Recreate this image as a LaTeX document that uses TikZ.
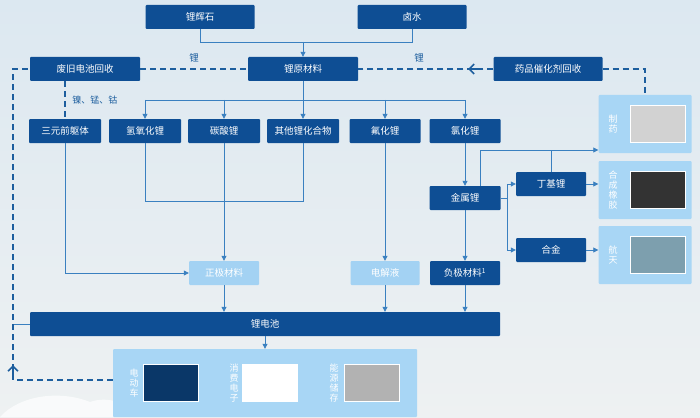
\documentclass[tikz,border=0pt]{standalone}
\usepackage{fontspec}
\setmainfont{Noto Sans CJK SC}
\usetikzlibrary{arrows.meta}
\definecolor{darkbox}{HTML}{0E4E94}
\definecolor{lightbox}{HTML}{A3D2F3}
\definecolor{panelc}{HTML}{A8D6F5}
\definecolor{wirec}{HTML}{3A80C0}
\definecolor{dashc}{HTML}{1D5E9E}
\definecolor{bgtop}{HTML}{DCE8F1}
\definecolor{bgbot}{HTML}{EEF1F2}

\begin{document}
\begin{tikzpicture}[x=1pt,y=-1pt,
    dbox/.style={fill=darkbox, text=white, rounded corners=1pt, minimum height=24pt, inner sep=1pt, font=\fontsize{9.5}{11}\selectfont},
    lbox/.style={dbox, fill=lightbox},
    pnl/.style={fill=panelc, rounded corners=1pt},
    photo/.style={fill=#1, draw=white, line width=0.5pt},
    vtext/.style={text=white, align=center, font=\fontsize{9}{10}\selectfont},
    wire/.style={wirec, line width=0.8pt},
    arr/.style={wire, -{Triangle[length=5pt,width=5pt]}},
    dsh/.style={dashc, line width=2pt, dash pattern=on 6pt off 4pt}]
    % background
    \useasboundingbox (0,0) rectangle (700,417);
    \shade[top color=bgtop, bottom color=bgbot] (0,0) rectangle (700,417);
    \fill[white, opacity=0.7] (0,417) .. controls (20,395) and (60,390) .. (90,402) .. controls (110,395) and (130,405) .. (140,417) -- cycle;

    % sources
    \node[dbox, minimum width=109pt] (spod) at (200,17) {锂辉石};
    \node[dbox, minimum width=109pt] (brine) at (412,17) {卤水};
    \node[dbox, minimum width=110pt] (raw) at (303,69) {锂原材料};
    \node[dbox, minimum width=110pt] (waste) at (85,69) {废旧电池回收};
    \node[dbox, minimum width=109pt] (drugrec) at (548,69) {药品催化剂回收};

    % compounds
    \node[dbox, minimum width=72pt] (ncm) at (65,131) {三元前躯体};
    \node[dbox, minimum width=72pt] (lioh) at (145,131) {氢氧化锂};
    \node[dbox, minimum width=72pt] (li2co3) at (224,131) {碳酸锂};
    \node[dbox, minimum width=72pt] (other) at (303,131) {其他锂化合物};
    \node[dbox, minimum width=71pt] (lif) at (385,131) {氟化锂};
    \node[dbox, minimum width=71pt] (licl) at (465,131) {氯化锂};
    \node[dbox, minimum width=71pt] (metal) at (465,198) {金属锂};
    \node[dbox, minimum width=70pt] (buli) at (551,184) {丁基锂};
    \node[dbox, minimum width=70pt] (alloy) at (551,250) {合金};

    % battery parts
    \node[lbox, minimum width=70pt] (cathode) at (224,273) {正极材料};
    \node[lbox, minimum width=69pt] (elyte) at (385,273) {电解液};
    \node[dbox, minimum width=70pt] (anode) at (465,273) {负极材料\textsuperscript{1}};
    \node[dbox, minimum width=470pt] (battery) at (265,324) {锂电池};

    % application panels
    \node[pnl, minimum width=304pt, minimum height=68pt] (apps) at (265,383) {};
    \node[pnl, minimum width=93pt, minimum height=58pt] (pharma) at (645,124) {};
    \node[pnl, minimum width=93pt, minimum height=58pt] (rubber) at (645,190) {};
    \node[pnl, minimum width=93pt, minimum height=58pt] (aero) at (645,255) {};
    \node[vtext] (pharmat) at (613,124) {制\\药};
    \node[vtext] (rubbert) at (613,190) {合\\成\\橡\\胶};
    \node[vtext] (aerot) at (613,255) {航\\天};
    \node[photo=gray!35, minimum width=55pt, minimum height=37pt] (pharmap) at (658,124) {};
    \node[photo=black!80, minimum width=55pt, minimum height=37pt] (rubberp) at (658,190) {};
    \node[photo=cyan!30!gray, minimum width=55pt, minimum height=37pt] (aerop) at (658,255) {};
    \node[vtext] (evt) at (134,383) {电\\动\\车};
    \node[vtext] (cet) at (234,383) {消\\费\\电\\子};
    \node[vtext] (est) at (334,383) {能\\源\\储\\存};
    \node[photo=darkbox!70!black, minimum width=55pt, minimum height=37pt] (evp) at (171,383) {};
    \node[photo=white, minimum width=55pt, minimum height=37pt] (cep) at (270,383) {};
    \node[photo=gray!60, minimum width=55pt, minimum height=37pt] (esp) at (372,383) {};

    % main flow
    \draw[wire] (spod.south) |- (303,42);
    \draw[wire] (brine.south) |- (303,42);
    \draw[arr] (303,42) -- (raw.north);
    \draw[wire] (raw.south) -- (303,100);
    \draw[wire] (145,100) -- (465,100);
    \draw[arr] (145,100) -- (lioh.north);
    \draw[arr] (224,100) -- (li2co3.north);
    \draw[arr] (303,100) -- (other.north);
    \draw[arr] (385,100) -- (lif.north);
    \draw[arr] (465,100) -- (licl.north);
    \draw[wire] (lioh.south) |- (303,201) -- (other.south);
    \draw[arr] (li2co3.south) -- (cathode.north);
    \draw[arr] (ncm.south) |- (cathode.west);
    \draw[arr] (lif.south) -- (elyte.north);
    \draw[arr] (licl.south) -- (metal.north);
    \draw[arr] (metal.south) -- (anode.north);
    \draw[arr] (480,186) |- (pharma.west |- 0,150);
    \draw[wire] (buli.north) -- (551,150);
    \draw[wire] (metal.east) -- (507,198);
    \draw[arr] (507,198) |- (buli.west);
    \draw[arr] (507,198) |- (alloy.west);
    \draw[arr] (buli.east) -- (rubber.west |- buli.east);
    \draw[arr] (alloy.east) -- (aero.west |- alloy.east);
    \draw[arr] (cathode.south) -- (cathode.south |- battery.north);
    \draw[arr] (elyte.south) -- (elyte.south |- battery.north);
    \draw[arr] (anode.south) -- (anode.south |- battery.north);
    \draw[arr] (battery.south -| 265,0) -- (apps.north);
    \draw[wire] (13,324) -- (battery.west);

    % recycling
    \draw[dsh] (waste.east) -- node[above=2pt, text=dashc, font=\fontsize{9.5}{11}\selectfont] {锂} (raw.west);
    \draw[dsh] (waste.south -| 65,0) -- node[right=3pt, text=dashc, font=\fontsize{9}{11}\selectfont] {镍、锰、钴} (ncm.north);
    \draw[dsh] (drugrec.west) -- node[above=2pt, text=dashc, font=\fontsize{9.5}{11}\selectfont, pos=0.55] {锂} (raw.east);
    \draw[dashc, line width=1.6pt, -{Straight Barb[length=5pt,width=10pt]}] (482,69) -- (468,69);
    \draw[dsh] (drugrec.east) -| (645,95);
    \draw[dsh] (apps.west |- 0,380) -| (13,69) -- (waste.west);
    \draw[dashc, line width=1.6pt, -{Straight Barb[length=5pt,width=10pt]}] (13,375) -- (13,365);
\end{tikzpicture}
\end{document}
